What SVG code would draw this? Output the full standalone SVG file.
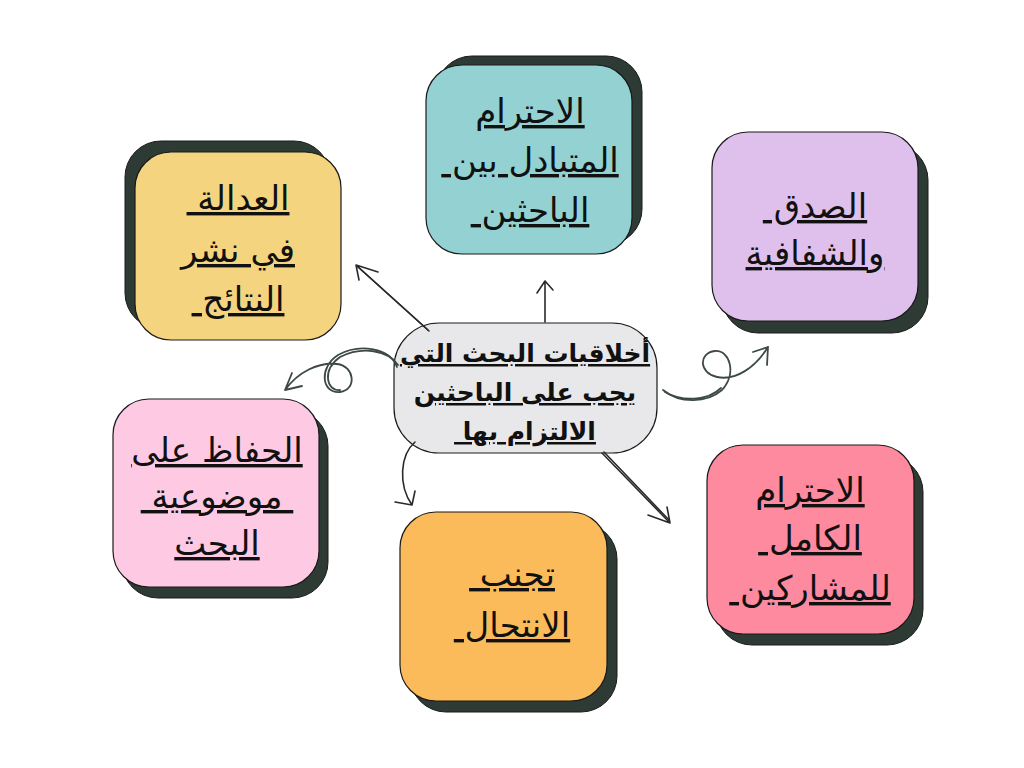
<svg xmlns="http://www.w3.org/2000/svg" width="1024" height="768" viewBox="0 0 1024 768">
<defs>
<style>
.sh{fill:#2e3b35;stroke:#1a1a1a;stroke-width:1}
.bx{stroke:#1a1a1a;stroke-width:1.2}
.t{font-family:"DejaVu Sans","Noto Sans",sans-serif;font-size:34px;fill:#111;text-anchor:middle;direction:rtl;text-decoration:underline;white-space:pre}
.tc{font-family:"DejaVu Sans","Noto Sans",sans-serif;font-size:25px;font-weight:bold;fill:#111;text-anchor:middle;direction:rtl;text-decoration:underline;white-space:pre}
.c{fill:none;stroke:#2a2a2a;stroke-width:1.6;stroke-linecap:round;stroke-linejoin:round}
.cg{fill:none;stroke:#3d4a44;stroke-width:1.8;stroke-linecap:round;stroke-linejoin:round}
</style>
</defs>
<rect width="1024" height="768" fill="#ffffff"/>

<g id="node-justice">
<rect class="sh" x="125" y="141" width="205" height="188" rx="36"/>
<rect class="bx" x="135" y="152" width="206" height="188" rx="36" fill="#f5d47f"/>
<text class="t" x="238" y="210">العدالة </text>
<text class="t" x="238" y="262">في نشر</text>
<text class="t" x="238" y="311">النتائج </text>
</g>

<g id="node-mutual-respect">
<rect class="sh" x="436" y="56" width="206" height="189" rx="36"/>
<rect class="bx" x="426" y="65" width="206" height="189" rx="36" fill="#93d1d3"/>
<text class="t" x="530" y="123">الاحترام</text>
<text class="t" x="530" y="172">المتبادل بين </text>
<text class="t" x="530" y="222">الباحثين </text>
</g>

<g id="node-honesty">
<rect class="sh" x="722" y="144" width="206" height="189" rx="36"/>
<rect class="bx" x="712" y="132" width="206" height="189" rx="36" fill="#dfc0ed"/>
<text class="t" x="815" y="218">الصدق </text>
<text class="t" x="815" y="265">والشفافية</text>
</g>

<g id="node-objectivity">
<rect class="sh" x="122" y="410" width="206" height="188" rx="36"/>
<rect class="bx" x="113" y="399" width="206" height="188" rx="36" fill="#fdc9e3"/>
<text class="t" x="217" y="462">الحفاظ على</text>
<text class="t" x="217" y="508"> موضوعية </text>
<text class="t" x="217" y="555">البحث</text>
</g>

<g id="node-plagiarism">
<rect class="sh" x="410" y="523" width="207" height="189" rx="36"/>
<rect class="bx" x="400" y="512" width="207" height="189" rx="36" fill="#fcbb5b"/>
<text class="t" x="512" y="586">تجنب </text>
<text class="t" x="512" y="637">الانتحال </text>
</g>

<g id="node-participants">
<rect class="sh" x="716" y="456" width="207" height="189" rx="36"/>
<rect class="bx" x="707" y="445" width="207" height="189" rx="36" fill="#fd8a9f"/>
<text class="t" x="810" y="502">الاحترام</text>
<text class="t" x="810" y="550">الكامل </text>
<text class="t" x="810" y="600">للمشاركين </text>
</g>

<g id="node-center">
<rect x="394" y="323" width="263" height="130" rx="45" fill="#e8e8ea" stroke="#1a1a1a" stroke-width="1.2"/>
<text class="tc" x="525" y="362">أخلاقيات البحث التي</text>
<text class="tc" x="525" y="401">يجب على الباحثين</text>
<text class="tc" x="525" y="440">الالتزام بها </text>
</g>

<g id="connectors">
<path class="c" d="M428,330 L356,265 M356,265 L378,272 M356,265 L359,280"/>
<path class="c" d="M429,331 L358,267"/>
<path class="c" d="M545,322 L545,281 M545,281 L537,293 M545,281 L553,290"/>
<path class="c" d="M602,453 L670,523 M670,523 L648,515 M670,523 L667,507"/>
<path class="c" d="M604,452 L669,520"/>
<path class="c" d="M415,442 C400,455 398,485 412,505 M412,505 L395,502 M412,505 L415,491"/>
<path class="cg" d="M397,367 C390,348 360,343 338,355 C318,368 322,394 340,392 C357,390 355,366 337,364 C318,362 298,372 285,390 M285,390 L292,373 M285,390 L302,386"/>
<path class="cg" d="M398,365 C388,350 362,346 340,357 C322,370 326,391 340,390"/>
<path class="cg" d="M663,390 C680,404 707,403 722,390 C737,374 730,350 715,351 C698,353 699,373 717,377 C735,381 755,368 768,347 M768,347 L753,352 M768,347 L767,365"/>
<path class="cg" d="M665,392 C682,402 708,401 721,388"/>
</g>
</svg>
